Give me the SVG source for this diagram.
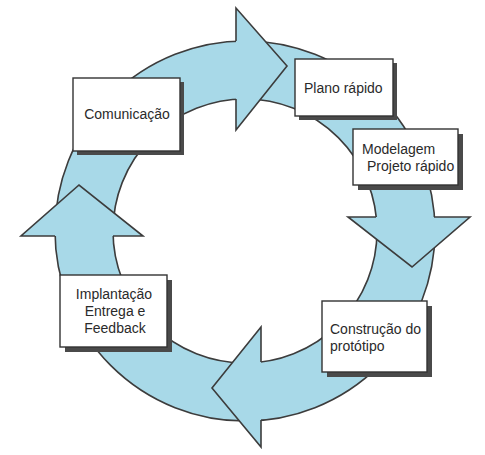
<svg xmlns="http://www.w3.org/2000/svg" width="485" height="455" viewBox="0 0 485 455">
<style>
.ring{fill:#a8d9e8;stroke:#3c3c3c;stroke-width:1.6;fill-rule:evenodd}
.head{fill:#a8d9e8;stroke:none}
.edge{fill:none;stroke:#3c3c3c;stroke-width:1.6;stroke-linejoin:miter}
.box{fill:#ffffff;stroke:#333333;stroke-width:1.4}
.shadow{fill:#4a4a4a}
text{font-family:"Liberation Sans",Arial,sans-serif;font-size:14px;fill:#2a2a2a}
</style>
<rect width="485" height="455" fill="#ffffff"/>
<g id="connectors">
<path class="ring" d="M435,231 A190,190 0 1,0 55,231 A190,190 0 1,0 435,231 Z M377,231 A132,132 0 1,1 113,231 A132,132 0 1,1 377,231 Z"/>
<polygon class="head" points="236,8 287,66 236,130"/>
<path class="edge" d="M236,41 L236,8 L287,66 L236,130 L236,99"/>
<polygon class="head" points="470,217 412,267 348,217"/>
<path class="edge" d="M434,217 L470,217 L412,267 L348,217 L376,217"/>
<polygon class="head" points="261,447 212,388 261,327"/>
<path class="edge" d="M261,420 L261,447 L212,388 L261,327 L261,362"/>
<polygon class="head" points="21,236 79,185 143,236"/>
<path class="edge" d="M55,236 L21,236 L79,185 L143,236 L113,236"/>
</g>
<g id="comunicacao">
<rect class="shadow" x="77" y="82" width="107" height="73"/>
<rect class="box" x="73" y="78" width="107" height="73"/>
<text x="127" y="119" text-anchor="middle">Comunicação</text>
</g>
<g id="plano">
<rect class="shadow" x="299" y="63" width="98" height="57"/>
<rect class="box" x="295" y="59" width="98" height="57"/>
<text x="304" y="93">Plano rápido</text>
</g>
<g id="modelagem">
<rect class="shadow" x="358" y="134" width="105" height="56"/>
<rect class="box" x="353" y="129" width="105" height="56"/>
<text x="362" y="154">Modelagem</text>
<text x="367" y="171">Projeto rápido</text>
</g>
<g id="construcao">
<rect class="shadow" x="327" y="306" width="105" height="71"/>
<rect class="box" x="322" y="301" width="105" height="71"/>
<text x="330" y="334">Construção do</text>
<text x="330" y="351">protótipo</text>
</g>
<g id="implantacao">
<rect class="shadow" x="65" y="280" width="107" height="72"/>
<rect class="box" x="60" y="275" width="107" height="72"/>
<text x="114" y="299" text-anchor="middle">Implantação</text>
<text x="115" y="316" text-anchor="middle">Entrega e</text>
<text x="115" y="333" text-anchor="middle">Feedback</text>
</g>
</svg>
